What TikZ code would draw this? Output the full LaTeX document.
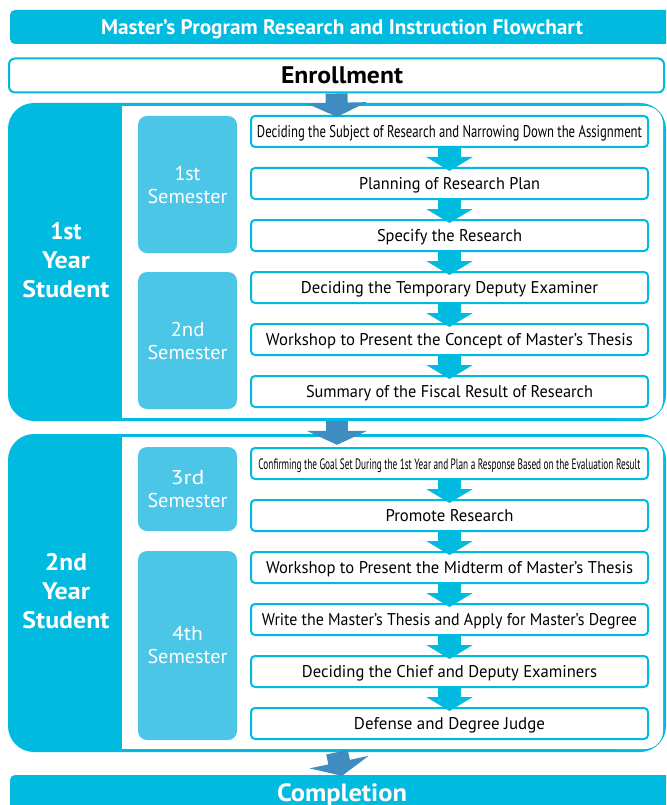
\documentclass[tikz,border=0pt]{standalone}
\usepackage{fontspec}
\setmainfont{PT Sans}
\usepackage{graphicx}
\usetikzlibrary{arrows.meta,calc}
\definecolor{cyanM}{RGB}{0,186,224}
\definecolor{semC}{RGB}{76,198,230}
\definecolor{darkA}{RGB}{62,140,192}
\newcommand{\fw}[2]{\resizebox{#1}{\height}{#2}}
\begin{document}
\begin{tikzpicture}[x=1pt,y=-1pt,
  stepbox/.style={draw=cyanM, line width=2pt, fill=white, rounded corners=4pt,
    minimum width=397pt, minimum height=31pt, inner sep=0pt, text=black,
    text height=12pt, text depth=0pt,
    font=\fontsize{17}{20}\selectfont},
  sembox/.style={fill=semC, rounded corners=9pt, minimum width=99pt, inner sep=0pt,
    text=white, align=center, font=\fontsize{20}{23}\selectfont},
  yeartext/.style={text=white, align=center, font=\bfseries\fontsize{24}{29}\selectfont},
  yearframe/.style={inner sep=0pt, minimum width=658pt, minimum height=318pt},
  bar/.style={fill=cyanM, rounded corners=5pt, minimum width=664pt, inner sep=0pt, text=white,
    text depth=0pt},
  bigarrow/.style={draw=darkA, line width=22pt, -{Triangle[width=60pt,length=14pt]}},
  smallarrow/.style={draw=cyanM, line width=23pt, -{Triangle[width=46pt,length=14pt]}},
]
\useasboundingbox (0,0) rectangle (666,805);
\clip (0,0) rectangle (666,805);
\fill[white] (0,0) rectangle (666,805);

% title
\node[bar, minimum height=34pt, text height=14.5pt, font=\bfseries\fontsize{21}{24}\selectfont] (title) at (342,27)
  {\fw{482pt}{Master’s Program Research and Instruction Flowchart}};

% enrollment
\node[draw=cyanM, line width=2pt, fill=white, rounded corners=6pt, minimum width=655pt,
  minimum height=34pt, inner sep=0pt, text height=17pt, text depth=0pt,
  font=\bfseries\fontsize{24}{28}\selectfont] (enroll) at (336.5,75.5)
  {\hspace*{11pt}\fw{122pt}{Enrollment}};

% year frames
\foreach \t/\b in {103/421, 434/752}{
  \fill[cyanM, rounded corners=26pt] (8,\t) rectangle (666,\b);
  \fill[white] (122,\t+3) rectangle (640,\b-3);
  \fill[white, rounded corners=18pt] (600,\t+3) rectangle (663,\b-3);
}
\node[yearframe] (y1) at (337,262) {};
\node[yearframe] (y2) at (337,593) {};
\node[yeartext] (y1lab) at (66,260) {\fw{31pt}{1st}\\\fw{48pt}{Year}\\\fw{87pt}{Student}};
\node[yeartext] (y2lab) at (66,591) {\fw{42pt}{2nd}\\\fw{48pt}{Year}\\\fw{87pt}{Student}};

% semesters
\node[sembox, minimum height=137pt] (sem1) at (187.5,184.5) {\fw{26pt}{1st}\\\fw{80pt}{Semester}};
\node[sembox, minimum height=137pt] (sem2) at (187.5,340.5) {\fw{34pt}{2nd}\\\fw{80pt}{Semester}};
\node[sembox, minimum height=84pt] (sem3) at (187.5,489) {\fw{34pt}{3rd}\\\fw{80pt}{Semester}};
\node[sembox, minimum height=189pt] (sem4) at (187.5,645.5) {\fw{31pt}{4th}\\\fw{80pt}{Semester}};

% steps
\node[stepbox] (a1) at (449.5,131.5) {\fw{385pt}{Deciding the Subject of Research and Narrowing Down the Assignment}};
\node[stepbox] (a2) at (449.5,183.5) {\fw{181pt}{Planning of Research Plan}};
\node[stepbox] (a3) at (449.5,235.5) {\fw{145pt}{Specify the Research}};
\node[stepbox] (a4) at (449.5,287.5) {\fw{297pt}{Deciding the Temporary Deputy Examiner}};
\node[stepbox] (a5) at (449.5,339.5) {\fw{367pt}{Workshop to Present the Concept of Master’s Thesis}};
\node[stepbox] (a6) at (449.5,391.5) {\fw{287pt}{Summary of the Fiscal Result of Research}};
\node[stepbox, text height=11pt] (b1) at (449.5,463.5) {\fontsize{15}{18}\selectfont\fw{382pt}{Confirming the Goal Set During the 1st Year and Plan a Response Based on the Evaluation Result}};
\node[stepbox] (b2) at (449.5,515.5) {\fw{128pt}{Promote Research}};
\node[stepbox] (b3) at (449.5,567.5) {\fw{367pt}{Workshop to Present the Midterm of Master’s Thesis}};
\node[stepbox] (b4) at (449.5,619.5) {\fw{375pt}{Write the Master’s Thesis and Apply for Master’s Degree}};
\node[stepbox] (b5) at (449.5,671.5) {\fw{295pt}{Deciding the Chief and Deputy Examiners}};
\node[stepbox] (b6) at (449.5,723.5) {\fw{191pt}{Defense and Degree Judge}};

% completion
\node[bar, minimum height=36pt, text height=17.5pt, font=\bfseries\fontsize{25}{28}\selectfont] (comp) at (342,793)
  {\fw{130pt}{Completion}};

% small arrows
\foreach \p/\q in {a1/a2, a2/a3, a3/a4, a4/a5, a5/a6, b1/b2, b2/b3, b3/b4, b4/b5, b5/b6}{
  \draw[smallarrow] (\p.south) -- ([yshift=-4pt]\q.north);
}

% big arrows
\draw[bigarrow] (enroll.south) -- ([yshift=-14pt]y1.north);
\draw[bigarrow] (y1.south) -- ([yshift=-11pt]y2.north);
\draw[bigarrow] (y2.south) -- ([yshift=-1pt]comp.north);
\end{tikzpicture}
\end{document}
